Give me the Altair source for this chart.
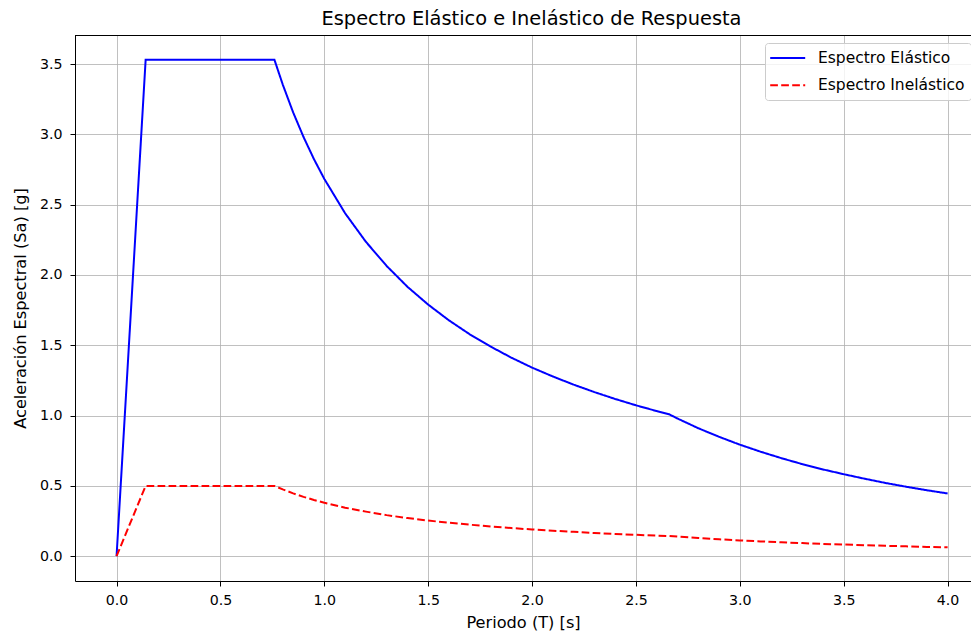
import altair as alt
import pandas as pd

# Periods (s)
T = [0.0, 0.14, 0.76, 0.8, 0.85, 0.9, 0.95, 1.0, 1.1, 1.2, 1.3, 1.4, 1.5, 1.6, 1.7,
     1.8, 1.9, 2.0, 2.1, 2.2, 2.3, 2.4, 2.5, 2.6, 2.66, 2.7, 2.8, 2.9, 3.0, 3.1,
     3.2, 3.3, 3.4, 3.5, 3.6, 3.7, 3.8, 3.9, 4.0]

# Elastic spectrum Sa [g]
sa_elastic = [0.0, 3.53, 3.53, 3.354, 3.156, 2.981, 2.824, 2.683, 2.439, 2.236, 2.064,
              1.916, 1.789, 1.677, 1.578, 1.491, 1.412, 1.341, 1.278, 1.220, 1.167,
              1.118, 1.073, 1.032, 1.009, 0.979, 0.910, 0.849, 0.793, 0.743, 0.697,
              0.655, 0.617, 0.583, 0.551, 0.521, 0.494, 0.469, 0.446]

# Inelastic spectrum Sa [g]
sa_inelastic = [0.0, 0.5, 0.5, 0.475, 0.447, 0.422, 0.400, 0.380, 0.345, 0.317, 0.292,
                0.271, 0.253, 0.238, 0.224, 0.211, 0.200, 0.190, 0.181, 0.173, 0.165,
                0.158, 0.152, 0.146, 0.143, 0.139, 0.129, 0.120, 0.112, 0.105, 0.099,
                0.093, 0.087, 0.083, 0.078, 0.074, 0.070, 0.066, 0.063]

series_names = ["Espectro Elástico", "Espectro Inelástico"]
x_ticks = [0.0, 0.5, 1.0, 1.5, 2.0, 2.5, 3.0, 3.5, 4.0]
y_ticks = [0.0, 0.5, 1.0, 1.5, 2.0, 2.5, 3.0, 3.5]

rows = []
for i, t in enumerate(T):
    rows.append({"T": t, "Sa": sa_elastic[i], "serie": series_names[0], "o": i})
for i, t in enumerate(T):
    rows.append({"T": t, "Sa": sa_inelastic[i], "serie": series_names[1], "o": i})
df = pd.DataFrame(rows)

FONT = "DejaVu Sans"
W, H = 896, 546

lines = alt.Chart(df).mark_line(strokeWidth=2, clip=True).encode(
    x=alt.X("T:Q", scale=alt.Scale(domain=[-0.2, 4.1126], nice=False, zero=False),
            axis=alt.Axis(values=x_ticks, format=".1f", title="Periodo (T) [s]",
                          titlePadding=7, labelPadding=7)),
    y=alt.Y("Sa:Q", scale=alt.Scale(domain=[-0.1765, 3.7065], nice=False, zero=False),
            axis=alt.Axis(values=y_ticks, format=".1f",
                          title="Aceleración Espectral (Sa) [g]", titlePadding=11,
                          labelPadding=8)),
    color=alt.Color("serie:N", scale=alt.Scale(domain=series_names, range=["#0000ff", "#ff0000"]),
                    legend=alt.Legend(title=None, orient="none", legendX=690, legendY=8,
                                      symbolType="M-1.225,0L3.15,0", symbolSize=256,
                                      symbolStrokeWidth=2, labelFontSize=15.5, labelFont=FONT,
                                      labelColor="#000000", labelOffset=29,
                                      strokeColor="#cccccc", fillColor="rgba(255,255,255,0.8)",
                                      cornerRadius=3, padding=6, rowPadding=9.3,
                                      labelLimit=400)),
    strokeDash=alt.StrokeDash("serie:N", scale=alt.Scale(domain=series_names,
                                                          range=[[1, 0], [7.7, 3.3]]),
                              legend=None),
    order="o:Q",
)

top_spine = alt.Chart(df).mark_rule(color="#000000", strokeWidth=1).encode(
    x=alt.value(0), x2=alt.value(W), y=alt.value(0.5)
)

chart = alt.layer(lines, top_spine).properties(
    width=W, height=H,
    title=alt.TitleParams("Espectro Elástico e Inelástico de Respuesta", font=FONT,
                          fontSize=19.4, fontWeight="normal", color="#000000",
                          offset=5.5, dx=8.5),
    autosize=alt.AutoSizeParams(type="none"),
    padding={"left": 67, "top": 27, "right": 0, "bottom": 50},
).configure_view(stroke=None).configure_axis(
    grid=True, gridColor="#b0b0b0", gridWidth=0.8,
    domainColor="#000000", domainWidth=1,
    tickColor="#000000", tickSize=5, tickWidth=1,
    labelFont=FONT, labelFontSize=14.2, labelColor="#000000",
    titleFont=FONT, titleFontSize=16.2, titleFontWeight="normal", titleColor="#000000",
)

chart.save("out.html", embed_options={"renderer": "svg", "actions": False})
